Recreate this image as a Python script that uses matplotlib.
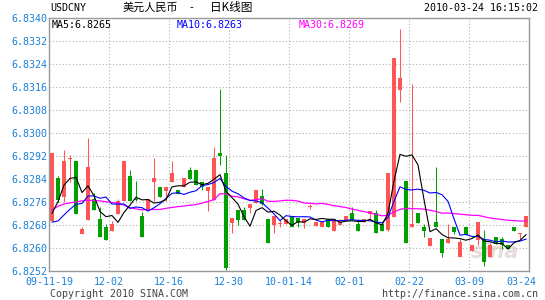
import numpy as np
import pandas as pd
import matplotlib
matplotlib.use("Agg")
import matplotlib.pyplot as plt
import matplotlib.transforms as mtransforms

# daily candles, USD/CNY 2009-11-19 .. 2010-03-24
opens = [6.82695, 6.82845, 6.82778, 6.82912, 6.82903, 6.82651, 6.82697, 6.82773, 6.82701, 6.82674,
         6.82660, 6.82719, 6.82765, 6.82853, 6.82772, 6.82713, 6.82731, 6.82832, 6.82812, 6.82800,
         6.82832, 6.82803, 6.82814, 6.82871, 6.82871, 6.82831, 6.82799, 6.82767, 6.82932, 6.82863,
         6.82687, 6.82733, 6.82733, 6.82741, 6.82756, 6.82782, 6.82702, 6.82681, 6.82686, 6.82684,
         6.82713, 6.82704, 6.82687, 6.82744, 6.82678, 6.82673, 6.82702, 6.82661, 6.82681, 6.82698,
         6.82722, 6.82684, 6.82693, 6.82720, 6.82722, 6.82684, 6.82665, 6.82710, 6.83151, 6.82834,
         6.82673, 6.82724, 6.82673, 6.82608, 6.82693, 6.82632, 6.82620, 6.82673, 6.82571, 6.82673,
         6.82592, 6.82629, 6.82631, 6.82571, 6.82641, 6.82631, 6.82611, 6.82673, 6.82648, 6.82673]
closes = [6.82930, 6.82767, 6.82903, 6.82914, 6.82720, 6.82666, 6.82883, 6.82732, 6.82639, 6.82630,
          6.82686, 6.82765, 6.82904, 6.82765, 6.82768, 6.82640, 6.82771, 6.82843, 6.82780, 6.82812,
          6.82863, 6.82789, 6.82843, 6.82842, 6.82819, 6.82813, 6.82813, 6.82914, 6.82921, 6.82530,
          6.82704, 6.82698, 6.82698, 6.82754, 6.82803, 6.82754, 6.82620, 6.82714, 6.82688, 6.82702,
          6.82675, 6.82687, 6.82702, 6.82746, 6.82692, 6.82692, 6.82673, 6.82702, 6.82692, 6.82713,
          6.82698, 6.82661, 6.82702, 6.82731, 6.82652, 6.82661, 6.82863, 6.83263, 6.83194, 6.82620,
          6.82684, 6.82689, 6.82661, 6.82635, 6.82673, 6.82582, 6.82632, 6.82658, 6.82623, 6.82646,
          6.82611, 6.82693, 6.82553, 6.82611, 6.82615, 6.82611, 6.82599, 6.82661, 6.82652, 6.82713]
highs = [6.82930, 6.82852, 6.82941, 6.82923, 6.82903, 6.82674, 6.82984, 6.82792, 6.82744, 6.82685,
         6.82695, 6.82771, 6.82904, 6.82872, 6.82834, 6.82727, 6.82771, 6.82915, 6.82812, 6.82812,
         6.82905, 6.82803, 6.82843, 6.82883, 6.82871, 6.82831, 6.82813, 6.82952, 6.83154, 6.82924,
         6.82704, 6.82733, 6.82745, 6.82754, 6.82803, 6.82805, 6.82702, 6.82714, 6.82698, 6.82702,
         6.82713, 6.82704, 6.82702, 6.82753, 6.82692, 6.82692, 6.82702, 6.82702, 6.82701, 6.82713,
         6.82743, 6.82701, 6.82702, 6.82731, 6.82733, 6.82684, 6.82863, 6.83263, 6.83363, 6.82834,
         6.83172, 6.82724, 6.82684, 6.82635, 6.82884, 6.82632, 6.82684, 6.82673, 6.82631, 6.82673,
         6.82611, 6.82693, 6.82664, 6.82620, 6.82641, 6.82640, 6.82611, 6.82673, 6.82652, 6.82713]
lows = [6.82695, 6.82761, 6.82761, 6.82831, 6.82720, 6.82651, 6.82697, 6.82732, 6.82639, 6.82630,
        6.82660, 6.82719, 6.82765, 6.82765, 6.82765, 6.82640, 6.82731, 6.82765, 6.82780, 6.82765,
        6.82832, 6.82789, 6.82814, 6.82842, 6.82819, 6.82802, 6.82729, 6.82767, 6.82890, 6.82525,
        6.82652, 6.82681, 6.82698, 6.82724, 6.82756, 6.82750, 6.82620, 6.82652, 6.82673, 6.82684,
        6.82675, 6.82673, 6.82669, 6.82737, 6.82678, 6.82673, 6.82673, 6.82661, 6.82681, 6.82698,
        6.82698, 6.82661, 6.82693, 6.82698, 6.82652, 6.82661, 6.82660, 6.82710, 6.83110, 6.82620,
        6.82673, 6.82689, 6.82640, 6.82608, 6.82673, 6.82571, 6.82620, 6.82650, 6.82571, 6.82646,
        6.82592, 6.82611, 6.82538, 6.82571, 6.82615, 6.82599, 6.82599, 6.82661, 6.82632, 6.82673]

# moving-average values before a full window exists
ma5_head = [6.82722, 6.82762, 6.82820, 6.82843]
ma10_head = [6.82691, 6.82695, 6.82716, 6.82736, 6.82753, 6.82756, 6.82782, 6.82782, 6.82774]
ma30_head = [6.82734, 6.82746, 6.82754, 6.82758, 6.82761, 6.82765, 6.82767, 6.82766, 6.82765, 6.82762,
             6.82759, 6.82758, 6.82750, 6.82741, 6.82737, 6.82734, 6.82734, 6.82735, 6.82735, 6.82739,
             6.82742, 6.82745, 6.82747, 6.82750, 6.82752, 6.82757, 6.82763, 6.82769, 6.82790]

date_labels = ["09-11-19", "12-02", "12-16", "12-30", "10-01-14", "02-01", "02-22", "03-09", "03-24"]
y_ticks = [6.8252, 6.8260, 6.8268, 6.8276, 6.8284, 6.8292, 6.8300, 6.8308, 6.8316, 6.8324, 6.8332, 6.8340]


def moving_avg(values, n, head):
    s = pd.Series(values).rolling(n).mean()
    s.iloc[:n - 1] = head
    return s.values


RED = "#ff5555"
GREEN = "#00a000"
BLUE_TXT = "#1a80d9"
MONO = "DejaVu Sans Mono"
CJK = ["Noto Sans CJK SC", "DejaVu Sans"]

o = np.array(opens)
c = np.array(closes)
h = np.array(highs)
l = np.array(lows)
x = np.arange(len(c))

fig = plt.figure(figsize=(5.45, 3.0), dpi=100)
ax = fig.add_axes([49 / 545, 28.7 / 300, 480 / 545, 253 / 300])

up = c >= o
cols = np.where(up, RED, GREEN)
ax.vlines(x, l, h, colors=cols, lw=0.75, zorder=2)
ax.bar(x, np.maximum(np.abs(c - o), 0.00003), bottom=np.minimum(o, c),
       width=0.8, color=cols, lw=0, zorder=2)

ax.plot(x, moving_avg(closes, 30, ma30_head), color="#ff00ff", lw=0.9, zorder=3)
ax.plot(x, moving_avg(closes, 10, ma10_head), color="#0000ff", lw=0.8, zorder=3)
ax.plot(x, moving_avg(closes, 5, ma5_head), color="black", lw=0.8, zorder=4)

ax.set_xlim(-0.5, 79.5)
ax.set_ylim(6.8252, 6.8340)

xt = [-0.5 + 10 * k for k in range(len(date_labels))]
ax.set_xticks(xt)
ax.set_xticklabels(date_labels)
ax.set_yticks(y_ticks)
ax.set_yticklabels(["%.4f" % v for v in y_ticks])
ax.tick_params(length=0, labelsize=7.2, labelcolor=BLUE_TXT)
ax.tick_params(axis="x", pad=4)
ax.tick_params(axis="y", pad=1.5)
for lab in ax.get_xticklabels() + ax.get_yticklabels():
    lab.set_fontfamily(MONO)
last = ax.get_xticklabels()[-1]
last.set_transform(last.get_transform() + mtransforms.ScaledTranslation(-8 / 100, 0, fig.dpi_scale_trans))

ax.grid(True, color="#b0b0b0", lw=0.8, linestyle=(0, (1, 2)))
ax.set_axisbelow(True)
for sp in ax.spines.values():
    sp.set_color("#999999")
    sp.set_linewidth(1)

ax.text(0.93, 0.035, "sina", transform=ax.transAxes, fontsize=15, fontweight="bold",
        fontstyle="italic", color="#e6dcdc", ha="center", va="bottom", zorder=0.5)

# header
ty = 1 - 8 / 300
fig.text(50 / 545, ty, "USDCNY", fontsize=7.2, family=MONO, va="center")
fig.text(123 / 545, ty, "美元人民币", fontsize=8, family=CJK, va="center")
fig.text(191 / 545, ty, "-", fontsize=8, family=CJK, va="center", ha="center")
fig.text(210 / 545, ty, "日K线图", fontsize=8.4, family=CJK, va="center")
fig.text(538 / 545, ty, "2010-03-24 16:15:02", fontsize=7.2, family=MONO,
         va="center", ha="right")

fig.text(52 / 545, 1 - 25 / 300, "MA5:6.8265", fontsize=7.2, family=MONO, va="center", color="black")
fig.text(177 / 545, 1 - 25 / 300, "MA10:6.8263", fontsize=7.2, family=MONO, va="center", color="#0000ff")
fig.text(299 / 545, 1 - 25 / 300, "MA30:6.8269", fontsize=7.2, family=MONO, va="center", color="#ff00ff")

# footer
fig.text(50 / 545, 1 - 294 / 300, "Copyright 2010 SINA.COM", fontsize=7.2, family=MONO,
         va="center", color="#444444")
fig.text(538 / 545, 1 - 294 / 300, "http://finance.sina.com.cn", fontsize=7.2, family=MONO,
         va="center", ha="right", color="#444444")

fig.savefig("out.png", dpi=100)
